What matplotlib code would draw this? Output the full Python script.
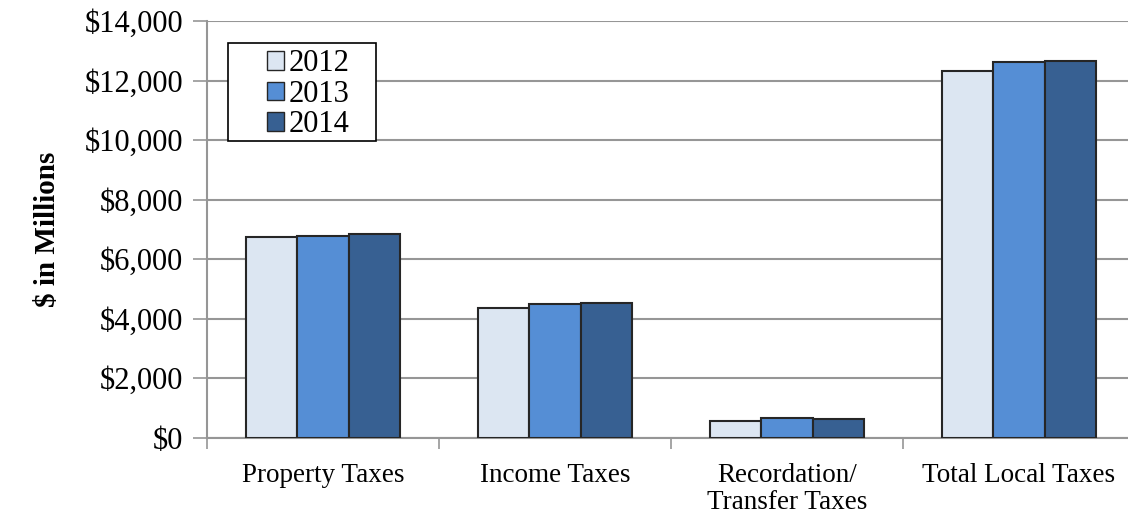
import matplotlib
matplotlib.use("Agg")
import matplotlib.pyplot as plt
import numpy as np
from matplotlib.patches import Rectangle
from matplotlib.ticker import FuncFormatter

categories = ["Property Taxes", "Income Taxes", "Recordation/\nTransfer Taxes", "Total Local Taxes"]
years = ["2012", "2013", "2014"]
values_2012 = [6750, 4350, 550, 12330]
values_2013 = [6790, 4500, 660, 12620]
values_2014 = [6840, 4540, 640, 12680]
colors = ["#DCE6F2", "#558ED5", "#376092"]

plt.rcParams["font.family"] = ["Liberation Serif", "DejaVu Serif"]

W, H = 1128, 513
fig = plt.figure(figsize=(W / 100, H / 100), dpi=100)
ax_left, ax_right, ax_top, ax_bottom = 207, 1135, 21.3, 437.7
ax = fig.add_axes([ax_left / W, 1 - ax_bottom / H, (ax_right - ax_left) / W, (ax_bottom - ax_top) / H])

x = np.arange(len(categories))
width = 0.2225
series = [values_2012, values_2013, values_2014]
for i, (vals, c, lab) in enumerate(zip(series, colors, years)):
    ax.bar(x + (i - 1) * width, vals, width, color=c, edgecolor="#262626",
           linewidth=1.5, label=lab, zorder=3)

ax.set_ylim(0, 14000)
ax.set_xlim(-0.5, len(categories) - 0.5)
ax.set_yticks(np.arange(0, 14001, 2000))
ax.yaxis.set_major_formatter(FuncFormatter(lambda v, p: f"${v:,.0f}"))
ax.tick_params(axis="y", labelsize=22, length=10, width=1.2, color="#969696", pad=7)

ax.set_xticks(x)
ax.set_xticklabels(categories, fontsize=19.5, linespacing=1.12)
ax.set_xticks(np.arange(-0.5, len(categories), 1), minor=True)
ax.tick_params(axis="x", which="major", length=0, pad=18)
ax.tick_params(axis="x", which="minor", length=8, width=1.2, color="#969696")

ax.grid(axis="y", color="#969696", linewidth=1.5, zorder=0)
for s in ["top", "right"]:
    ax.spines[s].set_visible(False)
for s in ["left", "bottom"]:
    ax.spines[s].set_color("#969696")
    ax.spines[s].set_linewidth(1.5)

ax.set_ylabel("$ in Millions", fontsize=21, fontweight="bold", labelpad=17)

# legend entries without their own frame; a wider box is drawn around them
leg = ax.legend(loc="upper left",
                bbox_to_anchor=((261 - ax_left) / (ax_right - ax_left),
                                (ax_bottom - 43) / (ax_bottom - ax_top)),
                fontsize=22, frameon=False,
                handlelength=0.55, handleheight=0.55, handletextpad=0.15,
                borderpad=0.2, labelspacing=0.05, borderaxespad=0)
leg.set_zorder(6)
for h in leg.legend_handles:
    h.set_linewidth(1.0)

box = Rectangle((228 / W, 1 - 141 / H), (376 - 228) / W, (141 - 43) / H,
                transform=fig.transFigure, facecolor="white", edgecolor="black",
                linewidth=1.2, zorder=5)
ax.add_artist(box)
box.set_clip_on(False)

fig.savefig("out.png", dpi=100, facecolor="white")
